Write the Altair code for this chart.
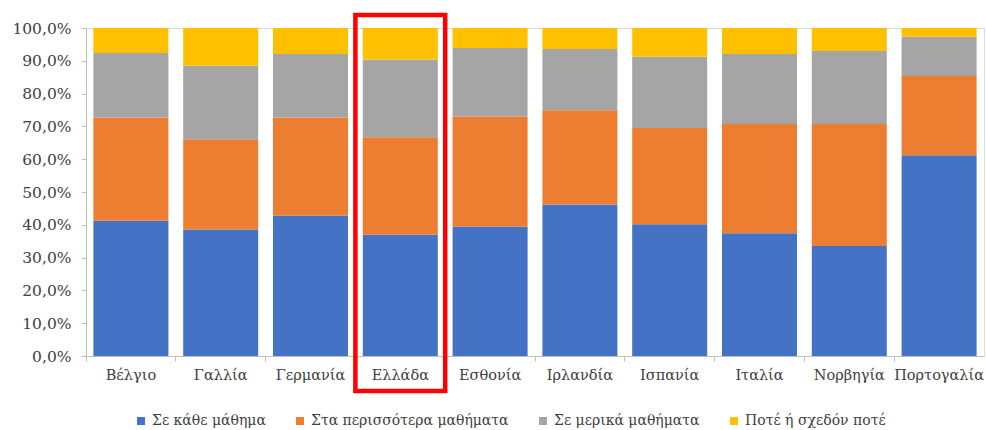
import altair as alt
import pandas as pd

countries = ["Βέλγιο", "Γαλλία", "Γερμανία", "Ελλάδα", "Εσθονία",
             "Ιρλανδία", "Ισπανία", "Ιταλία", "Νορβηγία", "Πορτογαλία"]
series = ["Σε κάθε μάθημα", "Στα περισσότερα μαθήματα",
          "Σε μερικά μαθήματα", "Ποτέ ή σχεδόν ποτέ"]
every = [41.2, 38.6, 42.8, 37.0, 39.5, 46.2, 40.2, 37.4, 33.5, 61.2]
most = [31.5, 27.5, 29.9, 29.7, 33.5, 28.7, 29.3, 33.3, 37.2, 24.2]
some = [19.7, 22.4, 19.4, 23.7, 20.9, 18.7, 21.7, 21.4, 22.3, 11.9]
never = [7.6, 11.5, 7.9, 9.6, 6.1, 6.4, 8.8, 7.9, 7.0, 2.7]
colors = ["#4472C4", "#ED7D31", "#A5A5A5", "#FFC000"]
highlight = ["Ελλάδα"]

rows = []
for vals, s_i in zip([every, most, some, never], range(4)):
    for c, v in zip(countries, vals):
        rows.append({"country": c, "series": series[s_i], "order": s_i, "value": v / 100})
df = pd.DataFrame(rows)

font = "DejaVu Serif"
xscale = alt.Scale(domain=countries, paddingInner=0, paddingOuter=0)

bars = alt.Chart(df).mark_bar(size=75).encode(
    x=alt.X("country:N", scale=xscale, sort=countries,
            axis=alt.Axis(title=None, labelAngle=0, bandPosition=0, tickSize=5,
                          labelPadding=7, domainColor="#BFBFBF", tickColor="#BFBFBF",
                          labelColor="#404040", grid=False, labelLimit=200,
                          labelFont=font, labelFontSize=14.5)),
    y=alt.Y("value:Q", stack="zero",
            scale=alt.Scale(domain=[0, 1], nice=False),
            axis=alt.Axis(title=None, values=[i / 10 for i in range(11)],
                          labelExpr="replace(format(datum.value, '.1%'), '.', ',')",
                          tickSize=5, labelPadding=10, domainColor="#BFBFBF",
                          tickColor="#BFBFBF", grid=False, labelColor="#404040",
                          labelFont=font, labelFontSize=15.5)),
    color=alt.Color("series:N", scale=alt.Scale(domain=series, range=colors),
                    legend=alt.Legend(title=None, orient="none", direction="horizontal",
                                      legendX=48, legendY=386, symbolType="square",
                                      symbolSize=64, labelColor="#404040", columnPadding=27,
                                      symbolStrokeWidth=0, labelOffset=4,
                                      labelLimit=400, labelFont=font, labelFontSize=14)),
    order=alt.Order("order:Q"),
)

hl = alt.Chart(pd.DataFrame({"country": highlight})).mark_rect(
    fill=None, stroke="#FF0000", strokeWidth=4.5, clip=False
).encode(
    x=alt.X("country:N", scale=xscale, sort=countries),
    y=alt.value(-13),
    y2=alt.value(363),
)

chart = alt.layer(bars, hl).properties(
    width=898, height=328,
    autosize=alt.AutoSizeParams(type="none"),
    padding={"left": 86, "top": 28, "right": 2, "bottom": 74},
).configure_view(stroke=None).configure(font=font)

chart.save("out.html", embed_options={"renderer": "svg", "actions": False})
